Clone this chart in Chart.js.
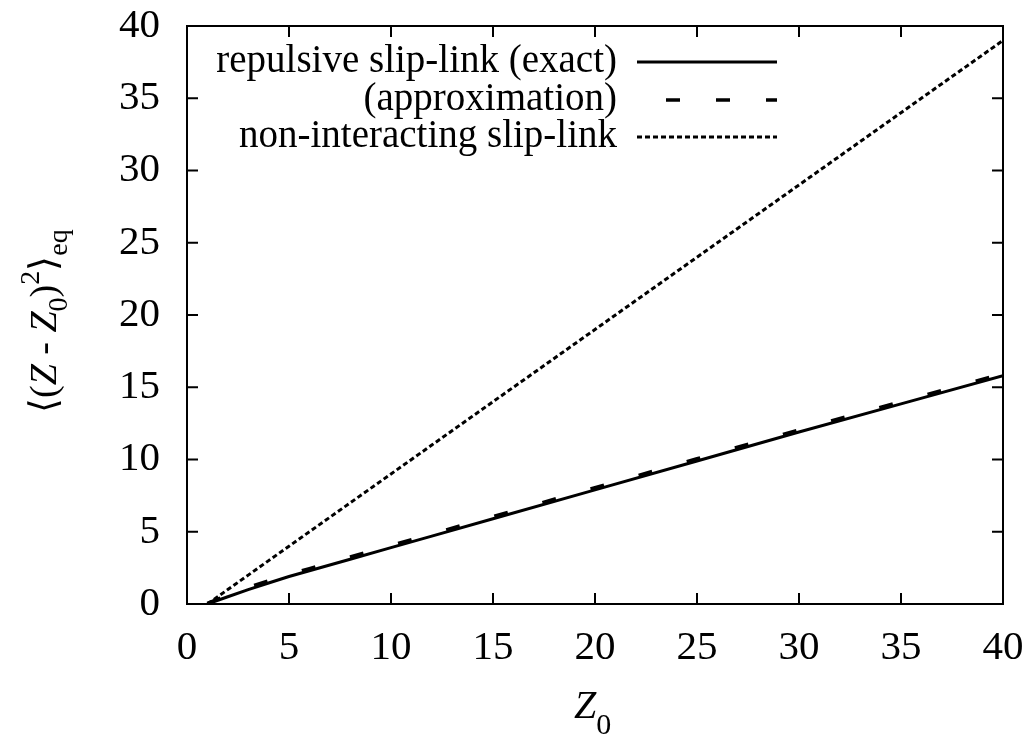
<!DOCTYPE html>
<html><head><meta charset="utf-8">
<script src="https://cdn.jsdelivr.net/npm/chart.js@4"></script>
<style>html,body{margin:0;padding:0;background:#fff;}#wrap{width:1036px;height:735px;}</style>
</head><body><div id="wrap"><canvas id="c" width="1036" height="735"></canvas></div>
<script>
const z0Values = [1, 2, 3, 4, 5, 6, 8, 10, 12, 15, 20, 25, 30, 35, 40];
const exactValues = [0, 0.5, 1.0, 1.45, 1.9, 2.3, 3.1, 3.9, 4.7, 5.9, 7.9, 9.9, 11.9, 13.85, 15.8];
const approxValues = [0.05, 0.62, 1.15, 1.6, 2.05, 2.45, 3.25, 4.05, 4.85, 6.05, 8.05, 10.05, 12.05, 14.0, 15.95];
const nonInteractingValues = [0, 1, 2, 3, 4, 5, 7, 9, 11, 14, 19, 24, 29, 34, 39];
const xTicks = [0, 5, 10, 15, 20, 25, 30, 35, 40];
const yTicks = [0, 5, 10, 15, 20, 25, 30, 35, 40];
const seriesLabels = ['repulsive slip-link (exact)', '(approximation)', 'non-interacting slip-link'];

const FONT = '"Liberation Serif", "Times New Roman", serif';
const pts = (ys) => z0Values.map((x, i) => ({x, y: ys[i]}));

const frame = {
  id: 'frame',
  afterDraw(chart) {
    const {ctx, chartArea: a, scales: {x, y}} = chart;
    ctx.save();
    ctx.strokeStyle = '#000';
    ctx.lineWidth = 2;
    ctx.strokeRect(a.left, a.top, a.right - a.left, a.bottom - a.top);
    const tl = 11;
    ctx.beginPath();
    xTicks.forEach(v => {
      const px = x.getPixelForValue(v);
      ctx.moveTo(px, a.bottom); ctx.lineTo(px, a.bottom - tl);
      ctx.moveTo(px, a.top); ctx.lineTo(px, a.top + tl);
    });
    yTicks.forEach(v => {
      const py = y.getPixelForValue(v);
      ctx.moveTo(a.left, py); ctx.lineTo(a.left + tl, py);
      ctx.moveTo(a.right, py); ctx.lineTo(a.right - tl, py);
    });
    ctx.stroke();

    // legend
    const rows = [62, 100, 137];
    const offsets = [0, 21, 0];
    ctx.textAlign = 'right';
    ctx.textBaseline = 'middle';
    ctx.fillStyle = '#000';
    ctx.font = '39px ' + FONT;
    chart.data.datasets.forEach((ds, i) => {
      ctx.fillText(ds.label, 617, rows[i]);
      ctx.beginPath();
      ctx.setLineDash(ds.borderDash || []);
      ctx.lineDashOffset = offsets[i];
      ctx.lineWidth = ds.borderWidth;
      ctx.strokeStyle = ds.borderColor;
      ctx.moveTo(637, rows[i]); ctx.lineTo(777, rows[i]);
      ctx.stroke();
    });
    ctx.setLineDash([]);
    ctx.lineDashOffset = 0;

    // x title Z0
    ctx.textAlign = 'left';
    ctx.textBaseline = 'alphabetic';
    ctx.font = 'italic 40px ' + FONT;
    ctx.fillText('Z', 574, 718);
    const zw = ctx.measureText('Z').width;
    ctx.font = '30px ' + FONT;
    ctx.fillText('0', 574 + zw, 734);

    // y title
    ctx.save();
    ctx.translate(56, 413);
    ctx.rotate(-Math.PI / 2);
    let cx = 0;
    const piece = (t, f, dy) => { ctx.font = f; ctx.fillText(t, cx, dy); cx += ctx.measureText(t).width; };
    piece('\u27E8(', '38px ' + FONT, 0);
    piece('Z', 'italic 38px ' + FONT, 0);
    piece(' - ', '38px ' + FONT, 0);
    piece('Z', 'italic 38px ' + FONT, 0);
    piece('0', '28px ' + FONT, 11);
    piece(')', '38px ' + FONT, 0);
    piece('2', '28px ' + FONT, -17);
    piece('\u27E9', '38px ' + FONT, 0);
    piece('eq', '28px ' + FONT, 11);
    ctx.restore();
    ctx.restore();
  }
};

new Chart(document.getElementById('c'), {
  type: 'line',
  data: {
    datasets: [
      {label: seriesLabels[0], data: pts(exactValues), borderColor: '#000', borderWidth: 3, pointRadius: 0, fill: false, tension: 0},
      {label: seriesLabels[1], data: pts(approxValues), borderColor: '#000', borderWidth: 3.5, borderDash: [14, 36], pointRadius: 0, fill: false, tension: 0},
      {label: seriesLabels[2], data: pts(nonInteractingValues), borderColor: '#000', borderWidth: 3, borderDash: [5, 3], pointRadius: 0, fill: false, tension: 0}
    ]
  },
  options: {
    responsive: false,
    animation: false,
    devicePixelRatio: 1,
    layout: {padding: {top: 26, right: 33, left: 0, bottom: 0}},
    plugins: {legend: {display: false}, tooltip: {enabled: false}},
    scales: {
      x: {
        type: 'linear', min: 0, max: 40,
        afterBuildTicks: s => { s.ticks = xTicks.map(v => ({value: v})); },
        afterFit: s => { s.height = 131; s.paddingLeft = 0; s.paddingRight = 0; },
        grid: {display: false, drawTicks: false},
        border: {display: false},
        ticks: {font: {family: FONT, size: 41}, color: '#000', padding: 20, maxRotation: 0}
      },
      y: {
        type: 'linear', min: 0, max: 40,
        afterBuildTicks: s => { s.ticks = yTicks.map(v => ({value: v})); },
        afterFit: s => { s.width = 187; s.paddingTop = 0; s.paddingBottom = 0; },
        grid: {display: false, drawTicks: false},
        border: {display: false},
        ticks: {font: {family: FONT, size: 41}, color: '#000', padding: 27}
      }
    }
  },
  plugins: [frame]
});
</script>
</body></html>
